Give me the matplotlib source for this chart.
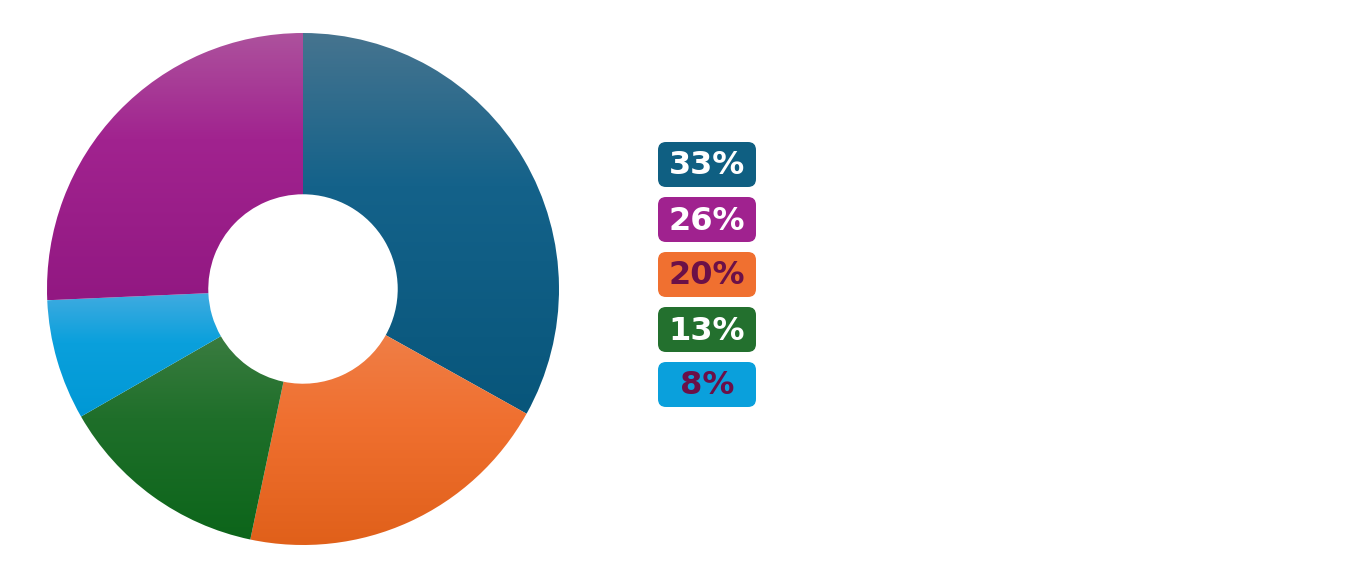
import numpy as np
import matplotlib.pyplot as plt
from matplotlib.colors import LinearSegmentedColormap
from matplotlib.patches import FancyBboxPatch

# data (clockwise from 12 o'clock)
values = [33.1, 20.2, 13.4, 7.6, 25.7]
labels = ["33%", "20%", "13%", "8%", "26%"]
legend_order = [0, 4, 1, 2, 3]  # 33, 26, 20, 13, 8

# style
top_colors = ["#46748f", "#ef7e46", "#3a7c40", "#40abe0", "#ad529d"]
mid_colors = ["#14628a", "#f07030", "#1f6f2a", "#0aa0dc", "#a1238f"]
bottom_colors = ["#08567b", "#e0601a", "#0c651a", "#0098d5", "#921882"]
box_colors = ["#0f5f82", "#f07030", "#23702e", "#0aa0dc", "#a0228f"]
text_colors = ["white", "#6b1048", "white", "#6b1048", "white"]

fig = plt.figure(figsize=(13.5, 5.77), dpi=100)
W, H = 1350, 577

# donut
ax = fig.add_axes([47 / W, 32 / H, 512 / W, 512 / H])
wedges, _ = ax.pie(values, startangle=90, counterclock=False, radius=1,
                   wedgeprops=dict(width=0.63, linewidth=0))
ax.set_aspect("equal")
ax.axis("off")

# vertical gradient inside each wedge (lighter at the top)
grad = np.linspace(0, 1, 256).reshape(-1, 1)
for w, c1, cm, c2 in zip(wedges, top_colors, mid_colors, bottom_colors):
    w.set_facecolor("none")
    ext = w.get_path().get_extents()
    cmap = LinearSegmentedColormap.from_list("g", [(0, c2), (0.6, cm), (1, c1)])
    im = ax.imshow(grad, cmap=cmap, origin="lower", aspect="auto",
                   extent=(ext.x0, ext.x1, ext.y0, ext.y1), interpolation="bilinear")
    im.set_clip_path(w)
ax.set_xlim(-1, 1)
ax.set_ylim(-1, 1)

# legend boxes
lax = fig.add_axes([0, 0, 1, 1])
lax.set_xlim(0, W)
lax.set_ylim(H, 0)
lax.axis("off")
for k, i in enumerate(legend_order):
    y0 = 142 + k * 55
    box = FancyBboxPatch((658, y0), 98, 45, boxstyle="round,pad=0,rounding_size=8",
                         facecolor=box_colors[i], edgecolor="none")
    lax.add_patch(box)
    lax.text(707, y0 + 24, labels[i], ha="center", va="center",
             fontsize=23, fontweight="bold", color=text_colors[i],
             family="DejaVu Sans")

fig.savefig("out.png", dpi=100)
